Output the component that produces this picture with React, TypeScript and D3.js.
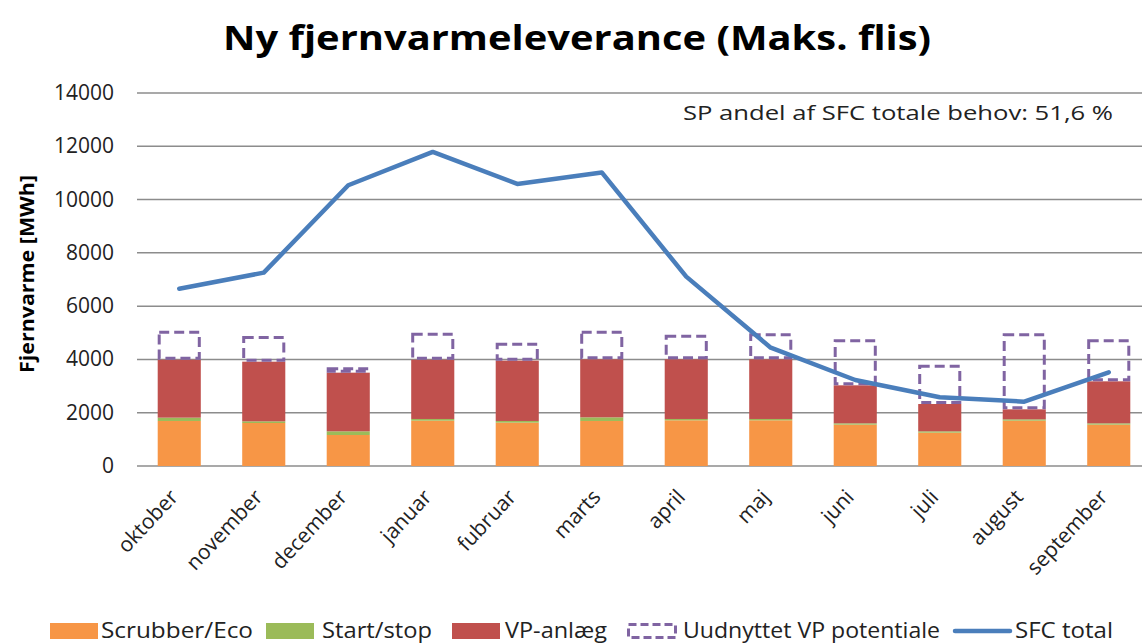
import React, { useEffect, useRef } from "react";
import * as d3 from "d3";

// months (Oct - Sep)
const months = [
  "oktober", "november", "december", "januar", "fubruar", "marts",
  "april", "maj", "juni", "juli", "august", "september",
];
// MWh per month
const scrubber = [1690, 1614, 1164, 1702, 1627, 1690, 1715, 1715, 1552, 1252, 1702, 1552];
const startStop = [125, 63, 138, 63, 63, 137, 50, 50, 50, 50, 50, 50];
const vpAnlaeg = [2175, 2239, 2201, 2225, 2265, 2178, 2240, 2240, 1426, 1025, 375, 1576];
const uudnyttet = [1090, 964, 201, 1015, 675, 1075, 925, 975, 1727, 1477, 2853, 1577];
const sfcTotal = [6655, 7257, 10537, 11787, 10586, 11020, 7107, 4441, 3228, 2579, 2414, 3517];
const yTicks = [0, 2000, 4000, 6000, 8000, 10000, 12000, 14000];

const FONT = "'Open Sans', 'Liberation Sans', sans-serif";

const App = () => {
  const svgRef = useRef<SVGSVGElement>(null);

  useEffect(() => {
    const svg = d3.select(svgRef.current);
    svg.selectAll("*").remove();

    const width = 1142;
    const left = 137;
    const right = 1151;
    const top = 93;
    const bottom = 466;

    const x = d3
      .scaleBand<string>()
      .domain(months)
      .range([left, right])
      .paddingInner(0.49)
      .paddingOuter(0.245);

    const y = d3.scaleLinear().domain([0, 14000]).range([bottom, top]);

    // title
    svg
      .append("text")
      .attr("x", 577)
      .attr("y", 50)
      .attr("text-anchor", "middle")
      .attr("font-family", FONT)
      .attr("font-weight", "bold")
      .attr("font-size", 34)
      .attr("textLength", 708)
      .attr("lengthAdjust", "spacingAndGlyphs")
      .text("Ny fjernvarmeleverance (Maks. flis)");

    // gridlines
    svg
      .append("g")
      .selectAll("line")
      .data(yTicks)
      .join("line")
      .attr("x1", left)
      .attr("x2", width)
      .attr("y1", (d) => y(d))
      .attr("y2", (d) => y(d))
      .attr("stroke", "#8c8c8c")
      .attr("stroke-width", 1.5);

    // y tick labels
    svg
      .append("g")
      .selectAll("text")
      .data(yTicks)
      .join("text")
      .attr("x", 114)
      .attr("y", (d) => y(d) + 7)
      .attr("text-anchor", "end")
      .attr("font-family", FONT)
      .attr("font-size", 21)
      .attr("fill", "#222")
      .text((d) => String(d));

    // y axis title
    svg
      .append("text")
      .attr("transform", `translate(34,274) rotate(-90)`)
      .attr("text-anchor", "middle")
      .attr("font-family", FONT)
      .attr("font-weight", "bold")
      .attr("font-size", 20)
      .attr("textLength", 198)
      .attr("lengthAdjust", "spacingAndGlyphs")
      .text("Fjernvarme [MWh]");

    // stacked bars
    const rows = months.map((m, i) => ({
      month: m,
      scrubber: scrubber[i],
      startStop: startStop[i],
      vp: vpAnlaeg[i],
      unused: uudnyttet[i],
    }));
    const keys = ["scrubber", "startStop", "vp", "unused"];
    const colors: Record<string, string> = {
      scrubber: "#F79646",
      startStop: "#9BBB59",
      vp: "#C0504D",
    };
    const stacked = d3.stack<any>().keys(keys)(rows);

    stacked.forEach((layer) => {
      const key = layer.key;
      const g = svg.append("g");
      if (key === "unused") {
        g.selectAll("rect")
          .data(layer)
          .join("rect")
          .attr("x", (d: any) => (x(d.data.month) as number) + 1.5)
          .attr("y", (d: any) => y(d[1]) + 1.5)
          .attr("width", x.bandwidth() - 3)
          .attr("height", (d: any) => Math.max(0, y(d[0]) - y(d[1]) - 3))
          .attr("fill", "none")
          .attr("stroke", "#8064A2")
          .attr("stroke-width", 3)
          .attr("stroke-dasharray", "10 5");
      } else {
        g.selectAll("rect")
          .data(layer)
          .join("rect")
          .attr("x", (d: any) => x(d.data.month) as number)
          .attr("y", (d: any) => y(d[1]))
          .attr("width", x.bandwidth())
          .attr("height", (d: any) => y(d[0]) - y(d[1]))
          .attr("fill", colors[key]);
      }
    });

    // SFC total line
    const line = d3
      .line<number>()
      .x((_, i) => (x(months[i]) as number) + x.bandwidth() / 2)
      .y((d) => y(d));
    svg
      .append("path")
      .datum(sfcTotal)
      .attr("d", line)
      .attr("fill", "none")
      .attr("stroke", "#4A7EBB")
      .attr("stroke-width", 4.5)
      .attr("stroke-linejoin", "round")
      .attr("stroke-linecap", "round");

    // x labels
    svg
      .append("g")
      .selectAll("text")
      .data(months)
      .join("text")
      .attr(
        "transform",
        (d) => `translate(${(x(d) as number) + x.bandwidth() / 2},498) rotate(-47)`
      )
      .attr("text-anchor", "end")
      .attr("font-family", FONT)
      .attr("font-size", 21)
      .attr("fill", "#222")
      .text((d) => d);

    // annotation
    svg
      .append("text")
      .attr("x", 683)
      .attr("y", 120)
      .attr("font-family", FONT)
      .attr("font-size", 20)
      .attr("fill", "#222")
      .attr("textLength", 430)
      .attr("lengthAdjust", "spacingAndGlyphs")
      .text("SP andel af SFC totale behov: 51,6 %");

    // legend
    const ly = 631;
    const legend = [
      { label: "Scrubber/Eco", sx: 50, tx: 101, tw: 152, kind: "rect", color: "#F79646" },
      { label: "Start/stop", sx: 266, tx: 322, tw: 110, kind: "rect", color: "#9BBB59" },
      { label: "VP-anlæg", sx: 452, tx: 505, tw: 102, kind: "rect", color: "#C0504D" },
      { label: "Uudnyttet VP potentiale", sx: 627, tx: 683, tw: 257, kind: "dash", color: "#8064A2" },
      { label: "SFC total", sx: 955, tx: 1015, tw: 98, kind: "line", color: "#4A7EBB" },
    ];
    const lg = svg.append("g");
    legend.forEach((it) => {
      if (it.kind === "rect") {
        lg.append("rect")
          .attr("x", it.sx)
          .attr("y", ly - 8)
          .attr("width", 48)
          .attr("height", 16)
          .attr("fill", it.color);
      } else if (it.kind === "dash") {
        lg.append("rect")
          .attr("x", it.sx + 1.5)
          .attr("y", ly - 6.5)
          .attr("width", 47)
          .attr("height", 13)
          .attr("fill", "none")
          .attr("stroke", it.color)
          .attr("stroke-width", 3)
          .attr("stroke-dasharray", "8 4");
      } else {
        lg.append("line")
          .attr("x1", it.sx)
          .attr("x2", it.sx + 55)
          .attr("y1", ly)
          .attr("y2", ly)
          .attr("stroke", it.color)
          .attr("stroke-width", 4.5)
          .attr("stroke-linecap", "round");
      }
      lg.append("text")
        .attr("x", it.tx)
        .attr("y", ly + 7)
        .attr("font-family", FONT)
        .attr("font-size", 21)
        .attr("fill", "#222")
        .attr("textLength", it.tw)
        .attr("lengthAdjust", "spacingAndGlyphs")
        .text(it.label);
    });
  }, []);

  return (
    <div style={{ position: "absolute", left: 0, top: 0 }}>
      <svg ref={svgRef} width={1142} height={643} style={{ display: "block", background: "#fff" }} />
    </div>
  );
};

export default App;
